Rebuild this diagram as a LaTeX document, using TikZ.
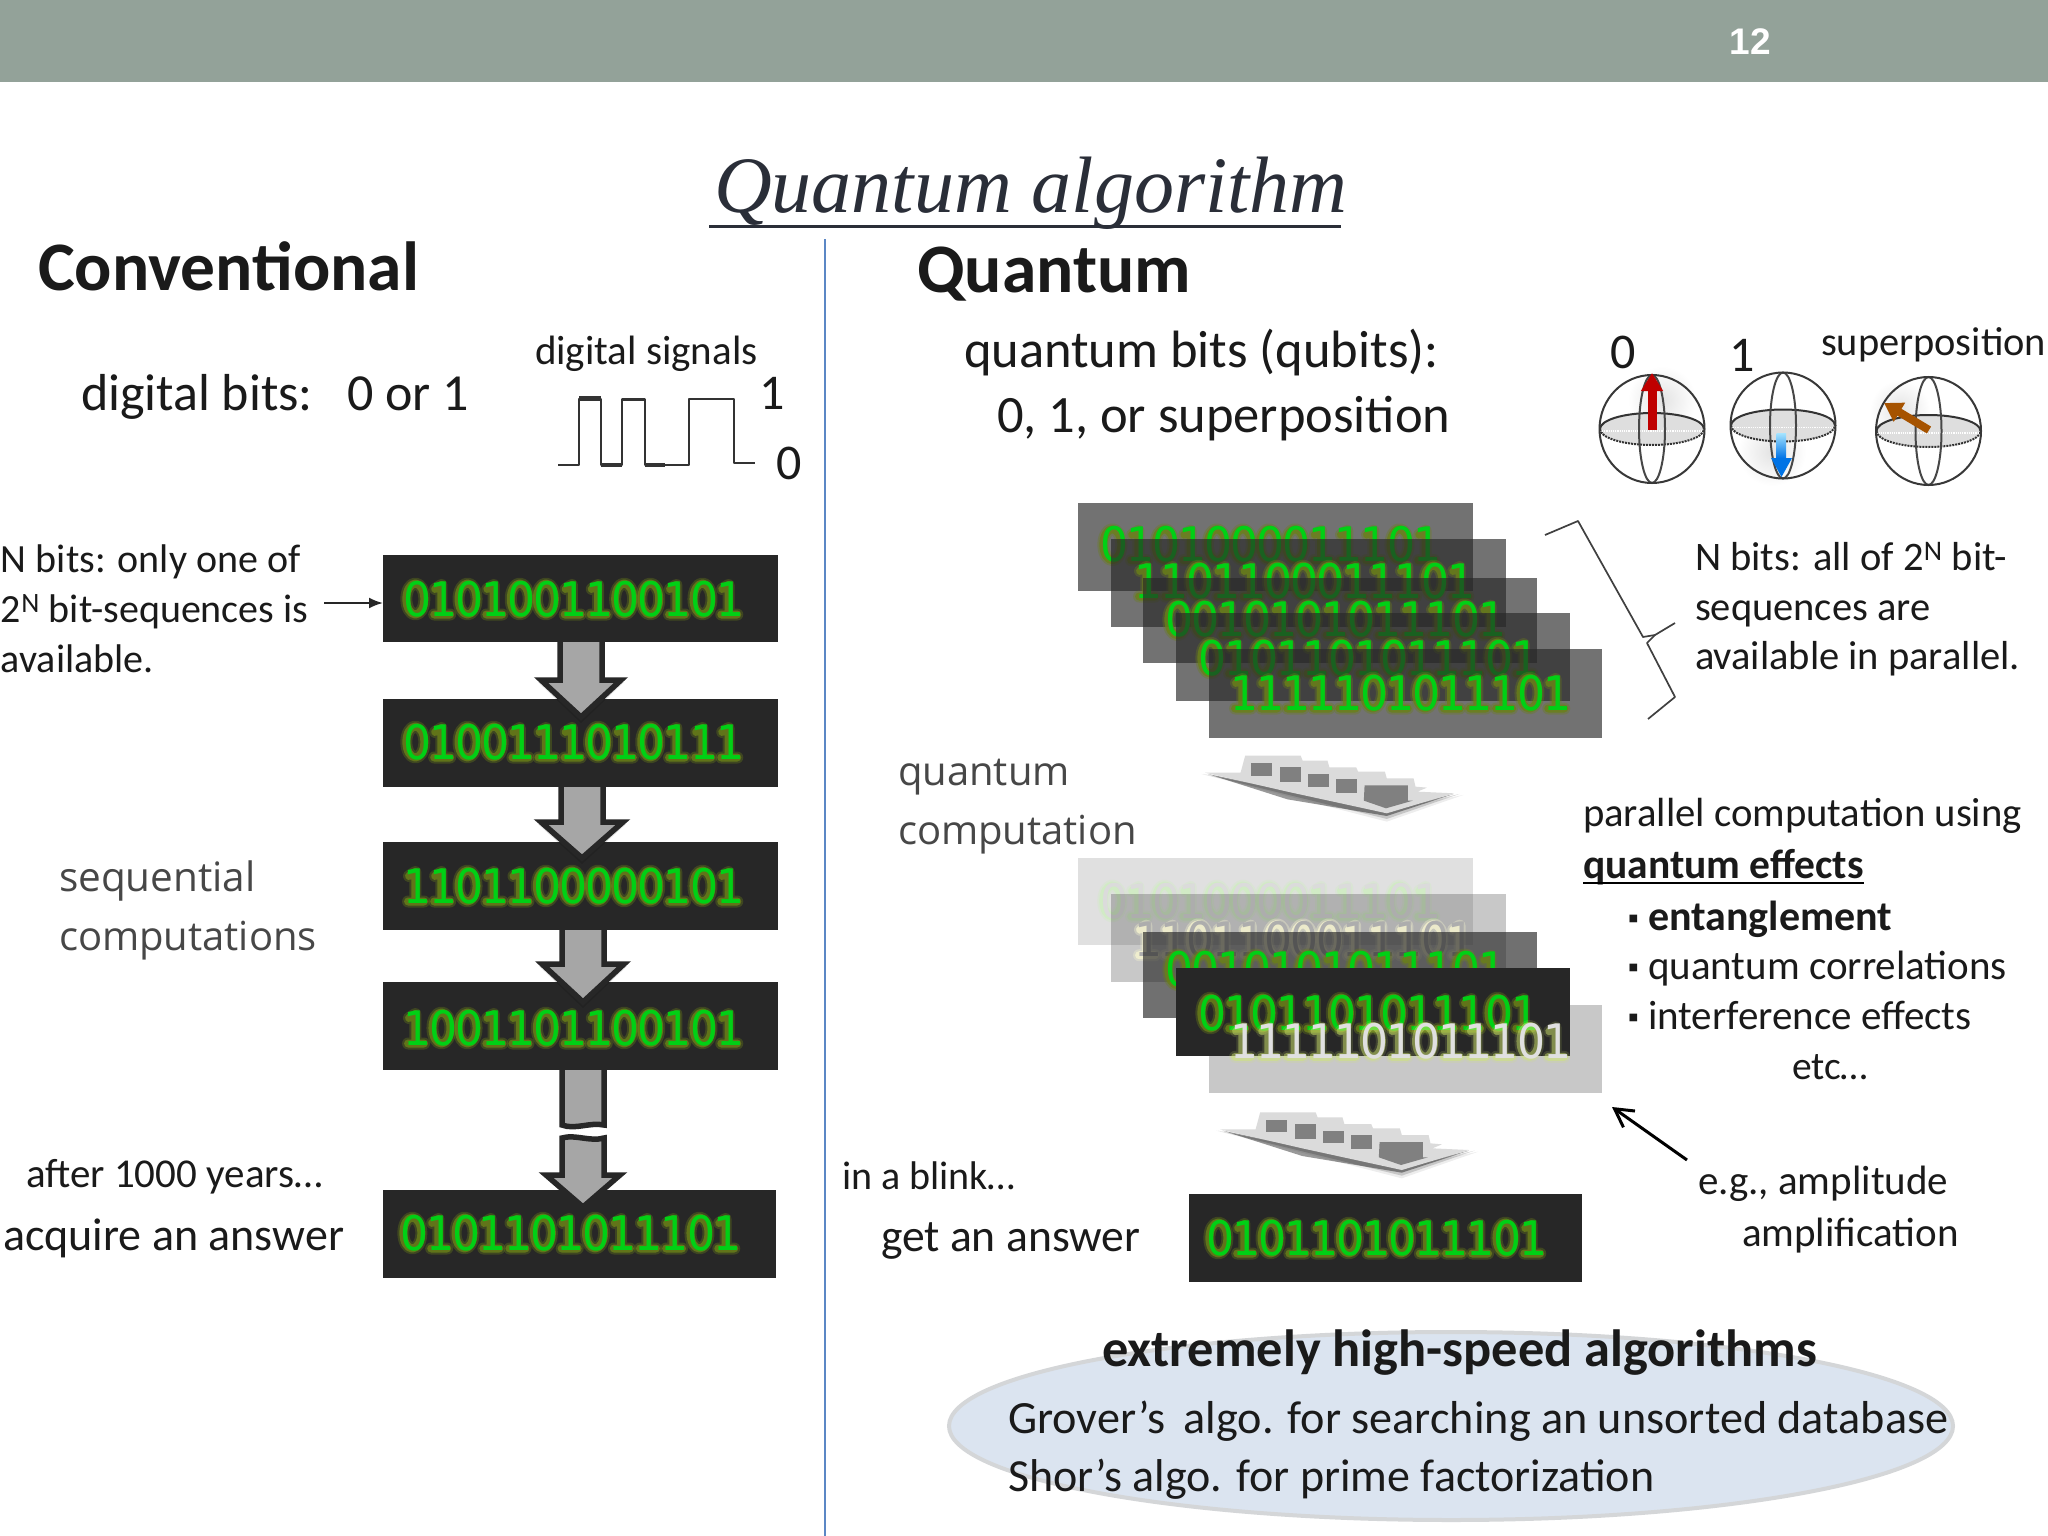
\documentclass[tikz,border=0pt]{standalone}
\usepackage{fontspec}
\usepackage{graphicx}
\usetikzlibrary{arrows.meta}
\setmainfont{Carlito}
\newfontfamily\bitfont[LetterSpace=-4.3]{DejaVu Sans}
\newfontfamily\lightfont{Open Sans}
\newfontfamily\titlefont{Liberation Serif}
\newfontfamily\numfont{Liberation Sans}
\definecolor{hdr}{HTML}{93A299}
\definecolor{boxdark}{HTML}{272727}
\definecolor{txt}{HTML}{1A1A1A}
\definecolor{ttl}{HTML}{2A2E38}
\definecolor{divid}{HTML}{5B87C5}
\definecolor{glowolive}{HTML}{6A8018}
\definecolor{bitgreen}{HTML}{00D015}
\definecolor{ellfill}{HTML}{DBE4F0}
\definecolor{ellrim}{HTML}{D4D6D8}
\newcount\bitk
\def\bitpitch{26.1}
\tikzset{
  lbl/.style={anchor=base west,inner sep=0pt,outer sep=0pt,text=txt},
  sz/.style={font=\fontsize{#1}{#1}\selectfont},
  thin text/.style={lbl,font=\lightfont\fontsize{#1}{#1}\selectfont,text=black!72},
  bitbox/.style={draw=none,fill=boxdark,inner sep=0pt,outer sep=0pt,anchor=north west,minimum width=#1},
  bittext/.style={anchor=base west,inner sep=0pt,outer sep=0pt,font=\bitfont\fontsize{44}{44}\selectfont},
  glowa/.style={line width=12pt,draw opacity=.35,line cap=round,line join=round},
  glowb/.style={line width=8pt,draw opacity=.8,line cap=round,line join=round},
  blockarrow/.style={draw=boxdark,line width=5.5pt,fill=black!35,miter limit=3},
}
\makeatletter
\newcommand\bitshape[4]{% style,xc,y,char
  \if0#4\relax
    \draw[#1] (#2-.7,#3-17) ellipse (9 and 15.5);
  \else
    \draw[#1] (#2-7,#3-27) -- (#2-.7,#3-31) -- (#2-.7,#3-1.5) (#2-8,#3-1.5) -- (#2+8,#3-1.5);
  \fi}
\newcommand\bitrow[6]{% name,x,y,string,glow,text
  \global\bitk=0
  \@tfor\bitch:=#4\do{%
    \pgfmathsetmacro\bx{#2+\bitpitch*(\the\bitk+0.5)}%
    \bitshape{glowa,draw=#5}{\bx}{#3}{\bitch}%
    \bitshape{glowb,draw=#5}{\bx}{#3}{\bitch}%
    \global\advance\bitk by 1
  }%
  \node[bittext,text=#6] (#1) at (#2,#3) {\scalebox{1}[1.08]{#4}};
}
\makeatother
\newcommand\bkarrow[6]{% cx, top, shoulder, tip, half shaft, half head
  \fill[black,opacity=.12] (#1-#6-3,#3+2) -- (#1,#4+6) -- (#1+#6+3,#3+2) -- cycle;
  \draw[blockarrow] (#1-#5,#2) -- (#1-#5,#3) -- (#1-#6,#3) -- (#1,#4) -- (#1+#6,#3) -- (#1+#5,#3) -- (#1+#5,#2);
}
\newcommand\sphere[4]{% x,y,ry,ery
  \fill[black!13] (#1,#2) ellipse (52 and #4);
  \draw[black!80,line width=2pt,densely dotted] (#1-52,#2) arc[start angle=180,end angle=0,x radius=52,y radius=#4];
  \draw[black!80,line width=2pt] (#1-52,#2) arc[start angle=180,end angle=360,x radius=52,y radius=#4];
  \draw[white,line width=1.2pt,densely dotted] (#1-50,#2+2) -- (#1+50,#2+2);
  \draw[black!72,line width=2pt] (#1,#2) ellipse (13 and #3);
  \draw[black!78,line width=2pt] (#1,#2) ellipse (52.5 and #3);
}
\newcommand\slantarrow{%
  \fill[black,opacity=.07] (395,852) -- (880,995) -- (1080,915) -- (880,960) -- cycle;
  \fill[black,opacity=.16] (400,852) -- (880,987) -- (1070,912) -- (880,962) -- cycle;
  \fill[black,opacity=.4] (412,852) -- (620,928) -- (880,978) -- (1055,912) -- (880,962) -- cycle;
  \fill[black!14] (405,848) -- (498,848) -- (510,797) -- (655,797) -- (660,812) -- (725,812) -- (730,832) -- (800,832) -- (805,845) -- (875,845) -- (880,865) -- (950,865) -- (955,890) -- (985,893) -- (960,905) -- (1055,910) -- (880,970) -- (620,905) -- cycle;
  \fill[black!50] (525,820) rectangle (581,857);
  \fill[black!50] (600,832) rectangle (656,877);
  \fill[black!50] (675,852) rectangle (729,890);
  \fill[black!50] (748,866) rectangle (803,908);
  \fill[black!50] (822,886) -- (935,886) -- (935,932) -- (948,932) -- (878,955) -- (820,932) -- cycle;
}
\begin{document}
\begin{tikzpicture}[x=1pt,y=-1pt]
\useasboundingbox (0,0) rectangle (2048,1536);
\fill[white] (0,0) rectangle (2048,1536);
% header
\fill[hdr] (0,0) rectangle (2048,82);
\node[anchor=base,inner sep=0pt,text=white,font=\numfont\bfseries\fontsize{37}{37}\selectfont] (pg) at (1750,55) {12};
% title
\node[lbl,font=\titlefont\itshape\fontsize{80}{80}\selectfont,text=ttl] (title) at (714,212) {Quantum algorithm};
\draw[ttl,line width=3pt] (709,226) -- (1341,226);
% divider
\draw[divid,line width=2pt] (825,239) -- (825,1536);
% headings
\node[lbl,font=\bfseries\fontsize{69.5}{69.5}\selectfont] (hc) at (38,290) {Conventional};
\node[lbl,font=\bfseries\fontsize{69.5}{69.5}\selectfont] (hq) at (917,292) {Quantum};
% left text
\node[lbl,sz=52] (db) at (81,410) {digital bits:\hspace{.66em}0 or 1};
\node[lbl,sz=41] (ds) at (535,364) {digital signals};
\node[lbl,sz=50] (s1) at (759,409) {1};
\node[lbl,sz=50] (s0) at (776,479) {0};
\draw[black!80,line width=2.8pt,line join=round] (558,465) -- (579,465) -- (579,399) -- (601,399) -- (601,465) -- (622,465) -- (622,399.5) -- (645,399.5) -- (645,465) -- (689,465) -- (689,399) -- (734,399) -- (734,463) -- (755,463);
\draw[black!80,line width=4.5pt] (579,398.5) -- (601,398.5) (601,465) -- (622,465) (645,465) -- (665,465);
\node[lbl,sz=40] (n1) at (1,572) {N bits: only one of};
\node[lbl,sz=40] (n2) at (1,622) {2\textsuperscript{N} bit-sequences is};
\node[lbl,sz=40] (n3) at (1,672) {available.};
\node[thin text=40.5] (sq1) at (59,891) {sequential};
\node[thin text=40] (sq2) at (59,950) {computations};
\node[lbl,sz=41] (af) at (26,1187) {after 1000 years…};
\node[lbl,sz=46] (ac) at (3,1250) {acquire an answer};
% left boxes
\node[bitbox=395pt,minimum height=87pt] (b1) at (383,555) {};
\node[bitbox=395pt,minimum height=88pt] (b2) at (383,699) {};
\node[bitbox=395pt,minimum height=88pt] (b3) at (383,842) {};
\node[bitbox=395pt,minimum height=88pt] (b4) at (383,982) {};
\node[bitbox=393pt,minimum height=88pt] (b5) at (383,1190) {};
\bitrow{t1}{403}{616}{0101001100101}{glowolive}{bitgreen}
\bitrow{t2}{403}{759}{0100111010111}{glowolive}{bitgreen}
\bitrow{t3}{403}{903}{1101100000101}{glowolive}{bitgreen}
\bitrow{t4}{403}{1045}{1001101100101}{glowolive}{bitgreen}
\bitrow{t5}{400}{1250}{0101101011101}{glowolive}{bitgreen}
\bkarrow{581}{642}{680}{717}{21}{40}
\bkarrow{582}{787}{822}{858}{21}{41}
\bkarrow{583}{930}{964}{1002}{21}{41}
\draw[blockarrow] (562,1070) -- (562,1125) .. controls (575,1130) and (590,1122) .. (604,1125) -- (604,1070);
\draw[blockarrow] (562,1175) -- (562,1138) .. controls (575,1134) and (590,1142) .. (604,1138) -- (604,1175) -- (620,1175) -- (583,1207) -- (546,1175) -- cycle;
\coordinate (na) at (324,603);
\draw[black!85,line width=2pt,-{Latex[length=14pt,width=11pt]}] (na) -- (b1.west |- na);
% right text
\node[lbl,sz=52.5] (q1) at (964,367) {quantum bits (qubits):};
\node[lbl,sz=52.5] (q2) at (997,432) {0, 1, or superposition};
\node[lbl,sz=50] (q0) at (1610,368) {0};
\node[lbl,sz=50] (q11) at (1729,371) {1};
\node[lbl,sz=40.4] (sp) at (1821,355) {superposition};
\shade[inner color=black!11,outer color=white] (1662,400) circle (34);
\shade[inner color=black!11,outer color=white] (1772,452) circle (34);
\shade[inner color=black!11,outer color=white] (1900,410) circle (30);
\sphere{1652}{429}{54}{16}
\sphere{1783}{425.5}{53}{16}
\sphere{1928.5}{431}{54}{16}
\draw[red!75!black,line width=9pt,-{Triangle[length=18pt,width=21pt]}] (1652,430) -- (1652,373);
\shade[top color=blue!30!cyan!35!white,bottom color=blue!50!cyan!90!black] (1776.5,433) rectangle (1786,458);
\fill[blue!50!cyan!90!black] (1771,458) -- (1792,458) -- (1781.5,477) -- cycle;
\draw[orange!65!black,line width=8pt,-{Triangle[length=18pt,width=21pt]}] (1929,430) -- (1884,403);
\coordinate (br0) at (1545,535);
\coordinate (br1) at (1578,521);
\coordinate (br2) at (1643,637);
\coordinate (br3) at (1655,635);
\coordinate (br4) at (1675,623);
\coordinate (br5) at (1647,643);
\coordinate (br6) at (1675,697);
\coordinate (br7) at (1648,719);
\draw[black!75,line width=1.7pt,line join=round] (br0) -- (br1) -- (br2) -- (br3) -- (br4);
\draw[black!75,line width=1.7pt,line join=round] (br3) -- (br5) -- (br6) -- (br7);
\node[lbl,sz=40.5] (m1) at (1695,570) {N bits: all of 2\textsuperscript{N} bit-};
\node[lbl,sz=40.5] (m2) at (1695,620) {sequences are};
\node[lbl,sz=40.5] (m3) at (1695,669) {available in parallel.};
\node[thin text=40] (qc1) at (898,785) {quantum};
\node[thin text=40] (qc2) at (898,844) {computation};
% top stack
\fill[boxdark,opacity=.65] (1077.5,502.7) rectangle (1473,590.7);
\bitrow{u1}{1100}{561.7}{0101000011101}{glowolive}{bitgreen}
\fill[boxdark,opacity=.65] (1110.5,539) rectangle (1506,626.7);
\bitrow{u2}{1134}{598}{1101100011101}{glowolive}{bitgreen}
\fill[boxdark,opacity=.65] (1143,577.7) rectangle (1536.5,663);
\bitrow{u3}{1165}{636.7}{0010101011101}{glowolive}{bitgreen}
\fill[boxdark,opacity=.65] (1176,613.3) rectangle (1569.5,701);
\bitrow{u4}{1198}{675}{0101101011101}{glowolive}{bitgreen}
\fill[boxdark,opacity=.65] (1209,649.3) rectangle (1602,737.7);
\bitrow{u5}{1230}{710}{1111101011101}{glowolive}{bitgreen}
% slant arrows
\begin{scope}[shift={(1050,490)},x=0.3827pt,y=-0.3333pt]
\slantarrow
\end{scope}
\begin{scope}[shift={(1065,846.7)},x=0.3827pt,y=-0.3333pt]
\slantarrow
\end{scope}
% lower stack
\fill[boxdark,opacity=.14] (1077.5,858) rectangle (1473,945.3);
\bitrow{v1}{1100}{918}{0101000011101}{yellow!25!green!25!white}{black!14}
\fill[boxdark,opacity=.25] (1110.5,893.7) rectangle (1506,981.7);
\bitrow{v2}{1134}{956.7}{1101100011101}{black!22!yellow!20!white}{black!32}
\fill[boxdark,opacity=.66] (1143,932) rectangle (1536.5,1017.7);
\bitrow{v3}{1165}{986.7}{0010101011101}{glowolive}{bitgreen}
\fill[boxdark,opacity=.25] (1209,1004.7) rectangle (1602,1093);
\fill[boxdark] (1176,968.3) rectangle (1569.5,1056.3);
\bitrow{v4}{1198}{1030}{0101101011101}{glowolive}{bitgreen}
\begin{scope}[glowa/.append style={draw opacity=.15},glowb/.append style={draw opacity=.45}]
\bitrow{v5}{1230}{1058.3}{1111101011101}{yellow!70!green!60!white}{black!12}
\end{scope}
% answer
\node[bitbox=393pt,minimum height=88pt] (ans) at (1189,1194.3) {};
\bitrow{a1}{1206}{1255}{0101101011101}{glowolive}{bitgreen}
% right labels
\node[lbl,sz=40.7] (p1) at (1583,826) {parallel computation using};
\node[lbl,font=\bfseries\fontsize{41.5}{41.5}\selectfont] (p2) at (1583,878) {quantum effects};
\draw[black,line width=2.5pt] (1583,883) -- (1864,883);
\node[lbl,sz=30] (bu1) at (1628,928) {▪};
\node[lbl,font=\bfseries\fontsize{42}{42}\selectfont] (p3) at (1648,930) {entanglement};
\node[lbl,sz=30] (bu2) at (1628,977) {▪};
\node[lbl,sz=41] (p4) at (1648,979) {quantum correlations};
\node[lbl,sz=30] (bu3) at (1628,1027) {▪};
\node[lbl,sz=41] (p5) at (1648,1029) {interference effects};
\node[lbl,sz=39.5] (p6) at (1792,1079) {etc…};
\node[lbl,sz=40] (bl) at (842,1189) {in a blink…};
\node[lbl,sz=45.6] (ga) at (881,1251) {get an answer};
\node[lbl,sz=41] (eg1) at (1698,1194) {e.g., amplitude};
\node[lbl,sz=41] (eg2) at (1742,1246) {amplification};
\coordinate (ea) at (1687,1160);
\coordinate (eb) at (1612,1107);
\draw[black,line width=3pt,-{Straight Barb[length=18pt,width=20pt]}] (ea) -- (eb);
% bottom ellipse
\draw[ellrim,fill=ellfill,line width=4pt] (1451,1426) ellipse (502 and 94);
\node[lbl,font=\bfseries\fontsize{52.4}{52.4}\selectfont] (ex) at (1102,1366) {extremely high-speed algorithms};
\node[lbl,sz=46.2] (gr) at (1008,1433) {Grover’s\hspace{.4em}algo. for searching an unsorted database};
\node[lbl,sz=46] (sh) at (1008,1491) {Shor’s algo. for prime factorization};
\end{tikzpicture}
\end{document}
